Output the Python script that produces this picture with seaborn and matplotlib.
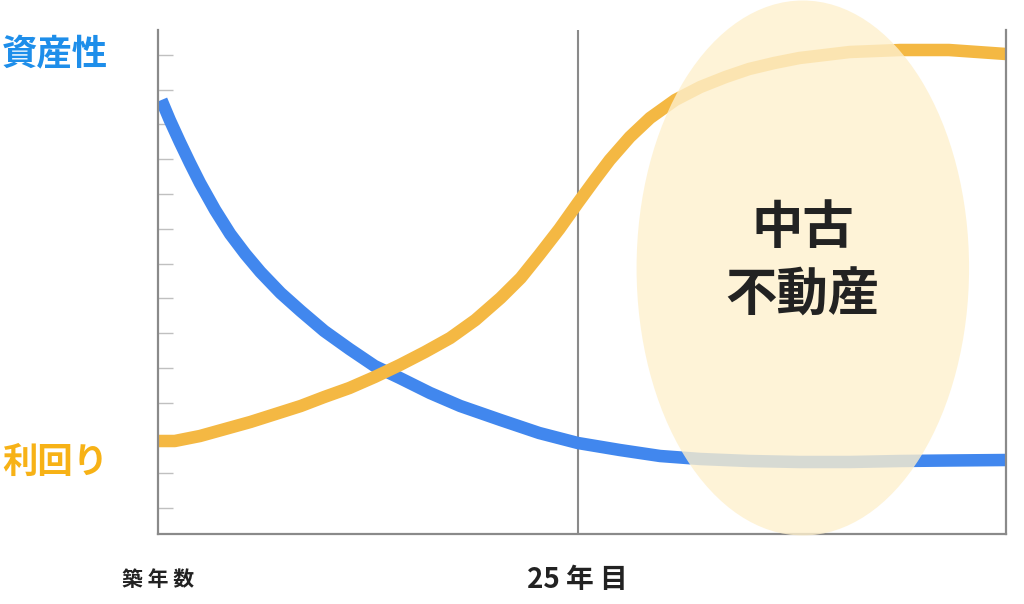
import numpy as np
import pandas as pd
import matplotlib.pyplot as plt
import seaborn as sns
from matplotlib.patches import Ellipse

# 築年数 (years) vs index value
blue_years = [0.2, 0.7, 1.3, 1.9, 2.5, 3.4, 4.3, 5.2, 6.1, 7.3, 8.5, 9.9, 11.4, 12.9, 14.4,
              16.2, 18.0, 20.4, 22.7, 25.0, 27.5, 29.9, 32.3, 35.2, 38.2, 41.2, 44.2, 47.1, 50.5]
blue_vals = [434, 414, 392, 371, 351, 324, 300, 280, 262, 241, 223, 203, 185, 168, 156,
             141, 128, 114, 101, 91, 84, 78, 75, 73, 72, 72, 73, 73.5, 74]

orange_years = [0.0, 1.0, 2.5, 4.0, 5.5, 7.0, 8.5, 9.9, 11.4, 12.9, 14.4, 15.9, 17.4, 18.9, 20.4,
                21.6, 22.7, 23.9, 25.0, 26.0, 26.9, 28.1, 29.3, 30.8, 32.3, 33.8, 35.2, 36.7,
                38.2, 41.2, 44.2, 47.1, 50.5]
orange_vals = [93, 93, 98, 105, 112, 120, 128, 137, 146, 157, 169, 182, 196, 214, 236,
               256, 279, 305, 331, 354, 374, 397, 416, 434, 447, 457, 465, 471,
               476, 482, 484, 484, 480]

tick_pos = [26, 61, 96, 131, 166, 201, 236, 270, 305, 340, 375, 410, 444, 479]

sns.set_style("white")
plt.rcParams['font.family'] = ['Noto Sans CJK JP', 'DejaVu Sans']

fig = plt.figure(figsize=(10.24, 6.04), dpi=100)
ax = fig.add_axes([158 / 1024, 70 / 604, 848 / 1024, 504 / 604])

df_blue = pd.DataFrame({'year': blue_years, 'value': blue_vals})
df_orange = pd.DataFrame({'year': orange_years, 'value': orange_vals})

sns.lineplot(data=df_blue, x='year', y='value', color='#4187EE', lw=9,
             ax=ax, zorder=2, solid_capstyle='butt', solid_joinstyle='round')
sns.lineplot(data=df_orange, x='year', y='value', color='#F4B843', lw=9,
             ax=ax, zorder=2, solid_capstyle='butt', solid_joinstyle='round')

ax.axvline(25, color='#8a8a8a', lw=1.5, zorder=1)

ax.set_xlim(0, 50.5)
ax.set_ylim(0, 504)
ax.set_xticks([])
ax.set_yticks(tick_pos)
ax.tick_params(axis='y', left=True, direction='in', length=11, width=1,
               color='#c0c0c0', labelleft=False)
ax.set_xlabel('')
ax.set_ylabel('')

for side in ['left', 'bottom', 'right']:
    ax.spines[side].set_color('#8a8a8a')
    ax.spines[side].set_linewidth(1.6)
ax.spines['top'].set_visible(False)

# highlight area
ell = Ellipse((38.4, 266), 19.8, 535, facecolor='#FEF0CD', edgecolor='none',
              alpha=0.8, zorder=3, clip_on=False)
ax.add_patch(ell)
ax.text(38.4, 306, '中古', ha='center', va='center', fontsize=37,
        fontweight='bold', color='#222222', zorder=4)
ax.text(38.4, 239, '不動産', ha='center', va='center', fontsize=37,
        fontweight='bold', color='#222222', zorder=4)

# axis labels
fig.text(55 / 1024, 1 - 54 / 604, '資産性', ha='center', va='center',
         fontsize=25.5, fontweight='bold', color='#1E8EEA')
fig.text(55 / 1024, 1 - 462 / 604, '利回り', ha='center', va='center',
         fontsize=25.5, fontweight='bold', color='#F7B216')

trans = ax.get_xaxis_transform()
ax.text(0, -0.091, '築 年 数', transform=trans, ha='center', va='center',
        fontsize=15, fontweight='bold', color='#222222')
ax.text(25, -0.091, '25 年 目', transform=trans, ha='center', va='center',
        fontsize=20, fontweight='bold', color='#222222')

fig.savefig('out.png', dpi=100)
